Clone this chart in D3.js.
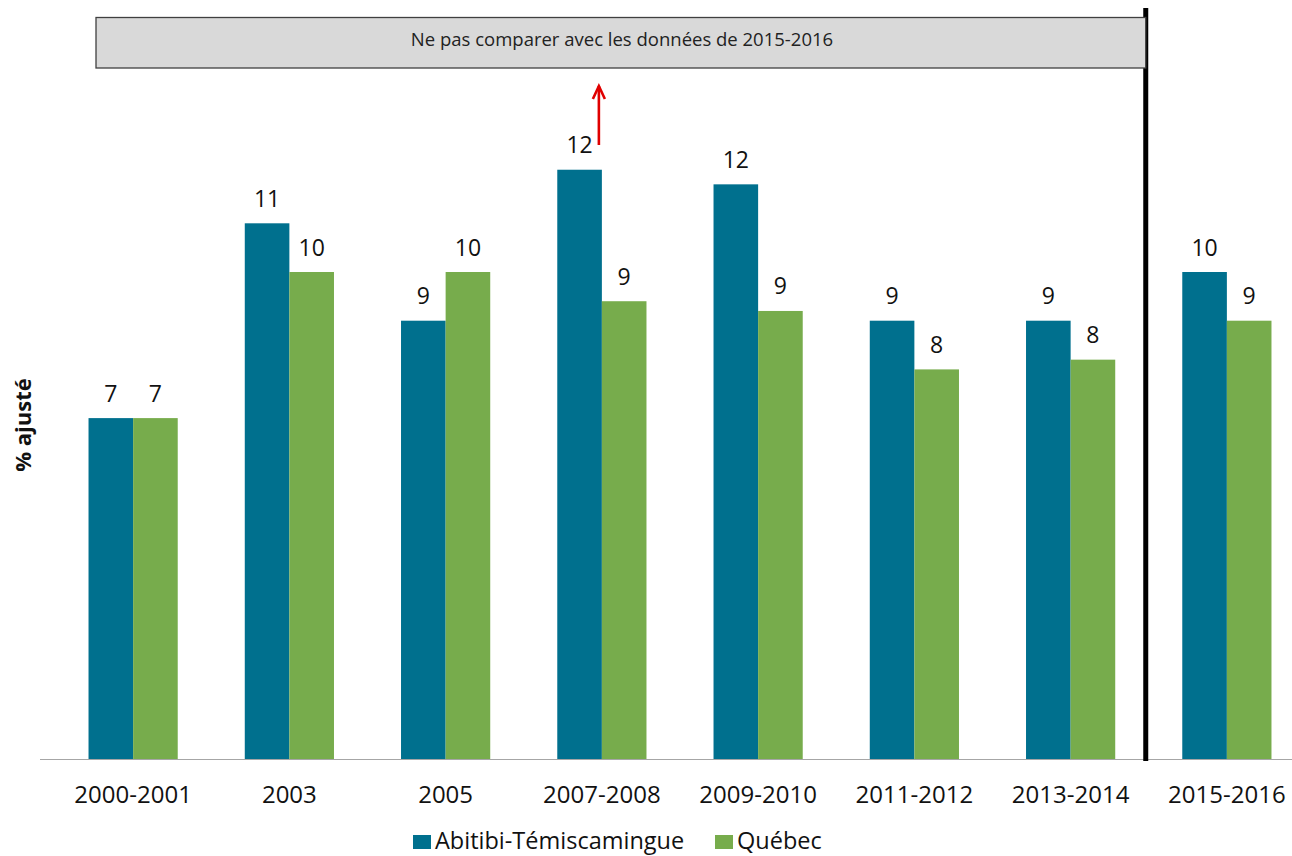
<!DOCTYPE html>
<html>
<head>
<meta charset="utf-8">
<script src="https://cdn.jsdelivr.net/npm/d3@7"></script>
<style>
  body { margin: 0; background: #fff; }
  svg { display: block; font-family: "Open Sans", sans-serif; }
</style>
</head>
<body>
<div id="chart"></div>
<script>
// Data
const periods = ["2000-2001", "2003", "2005", "2007-2008", "2009-2010", "2011-2012", "2013-2014", "2015-2016"];
const series = ["Abitibi-Témiscamingue", "Québec"];
const abitibi = [7.0, 11.0, 9.0, 12.1, 11.8, 9.0, 9.0, 10.0];
const quebec = [7.0, 10.0, 10.0, 9.4, 9.2, 8.0, 8.2, 9.0];
const note = "Ne pas comparer avec les données de 2015-2016";
const yTitle = "% ajusté";

const W = 1292, H = 856;
const colors = {"Abitibi-Témiscamingue": "#00708e", "Québec": "#77ac4c"};

const svg = d3.select("#chart").append("svg")
    .attr("width", W)
    .attr("height", H);

const baseY = 759;

const x = d3.scaleBand()
    .domain(periods)
    .range([55, 1305])
    .padding(0);

const barW = 44.6;
const xs = d3.scaleBand()
    .domain(series)
    .range([-barW, barW]);

const y = d3.scaleLinear()
    .domain([0, 12])
    .range([baseY, baseY - 12 * 48.7]);

const rows = periods.map((p, i) => ({period: p, values: [
    {key: series[0], value: abitibi[i]},
    {key: series[1], value: quebec[i]}
]}));

// bars
const groups = svg.selectAll("g.period")
    .data(rows)
    .join("g")
    .attr("class", "period")
    .attr("transform", d => `translate(${x(d.period) + x.bandwidth() / 2},0)`);

groups.selectAll("rect")
    .data(d => d.values)
    .join("rect")
    .attr("x", d => xs(d.key))
    .attr("width", xs.bandwidth())
    .attr("y", d => y(d.value))
    .attr("height", d => baseY - y(d.value))
    .attr("fill", d => colors[d.key]);

// value labels
groups.selectAll("text.val")
    .data(d => d.values)
    .join("text")
    .attr("class", "val")
    .attr("x", d => xs(d.key) + xs.bandwidth() / 2)
    .attr("y", d => y(d.value) - 16.5)
    .attr("text-anchor", "middle")
    .style("font-size", "23px")
    .attr("fill", "#111")
    .text(d => Math.round(d.value));

// x axis line
svg.append("line")
    .attr("x1", 40).attr("x2", W)
    .attr("y1", baseY + 0.5).attr("y2", baseY + 0.5)
    .attr("stroke", "#a6a6a6")
    .attr("stroke-width", 1.2);

// category labels
svg.selectAll("text.tick")
    .data(periods)
    .join("text")
    .attr("class", "tick")
    .attr("x", d => x(d) + x.bandwidth() / 2)
    .attr("y", 803)
    .attr("text-anchor", "middle")
    .style("font-size", "24px")
    .attr("fill", "#111")
    .text(d => d);

// separator line before 2015-2016
const sepX = x("2015-2016");
svg.append("line")
    .attr("x1", sepX - 3).attr("x2", sepX - 3)
    .attr("y1", 8).attr("y2", baseY + 2)
    .attr("stroke", "#000")
    .attr("stroke-width", 5);

// note box
svg.append("rect")
    .attr("x", 96).attr("y", 17.5)
    .attr("width", sepX - 3 - 96).attr("height", 50.5)
    .attr("fill", "#d9d9d9")
    .attr("stroke", "#404040")
    .attr("stroke-width", 1.3);

svg.append("text")
    .attr("x", 622).attr("y", 46)
    .attr("text-anchor", "middle")
    .style("font-size", "18.5px")
    .attr("fill", "#222")
    .text(note);

// red arrow
const ax = x("2007-2008") + x.bandwidth() / 2 - 3;
const arrow = svg.append("g")
    .attr("stroke", "#e00000")
    .attr("stroke-width", 2.6)
    .attr("fill", "none");
arrow.append("line")
    .attr("x1", ax).attr("x2", ax)
    .attr("y1", 145).attr("y2", 86);
arrow.append("path")
    .attr("d", `M${ax - 6},${99} L${ax},${86} L${ax + 6},${99}`);

// y title
svg.append("text")
    .attr("transform", "translate(31,425) rotate(-90)")
    .attr("text-anchor", "middle")
    .style("font-size", "22px")
    .style("font-weight", "bold")
    .attr("fill", "#111")
    .text(yTitle);

// legend
const legendX = [413, 715];
const legend = svg.selectAll("g.legend")
    .data(series)
    .join("g")
    .attr("class", "legend")
    .attr("transform", (d, i) => `translate(${legendX[i]},835)`);

legend.append("rect")
    .attr("width", 18).attr("height", 14)
    .attr("fill", d => colors[d]);

legend.append("text")
    .attr("x", 22).attr("y", 14)
    .style("font-size", "23.5px")
    .attr("fill", "#111")
    .text(d => d);
</script>
</body>
</html>
